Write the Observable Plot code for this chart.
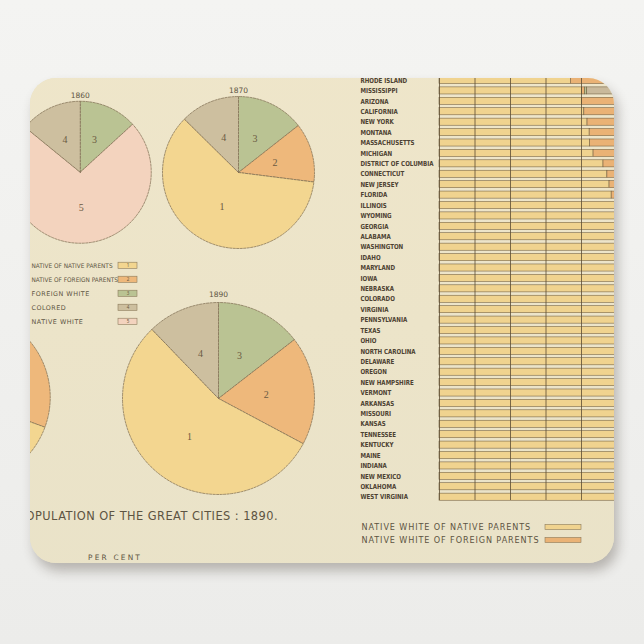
<!DOCTYPE html>
<html><head><meta charset="utf-8">
<script src="https://cdn.jsdelivr.net/npm/d3@7"></script>
<script src="https://cdn.jsdelivr.net/npm/@observablehq/plot@0.6"></script>
<style>
html,body{margin:0;padding:0;background:#efefed;}
#stage{position:relative;width:644px;height:644px;overflow:hidden;background:linear-gradient(#f4f4f2,#ececea);}
#shadow{position:absolute;left:30px;top:78px;width:584px;height:485px;border-radius:26px;box-shadow:4px 8px 12px rgba(60,50,40,0.30);background:#e9e2c8;}
#pad{position:absolute;left:0;top:0;width:644px;height:644px;clip-path:inset(78px 30px 81px 30px round 26px);background:linear-gradient(#efe6ca,#e9e2c8);}
#pad svg{position:absolute;overflow:visible;background:none;}
.t{position:absolute;white-space:nowrap;color:#5d5442;font-family:"DejaVu Sans",sans-serif;}
</style></head>
<body><div id="stage"><div id="shadow"></div><div id="pad"></div></div>
<script>
// ---------- data ----------
const pieKeys = ["1","2","3","4","5"];
const pieNames = ["NATIVE OF NATIVE PARENTS","NATIVE OF FOREIGN PARENTS","FOREIGN WHITE","COLORED","NATIVE WHITE"];
const pieColors = ["#f3d690","#eeb87b","#bac393","#cdbf9f","#f3d3be"];
const clockwiseOrder = ["3","2","1","5","4"];
const pieYears = ["1860","1870","1880","1890"];
// per cent shares, aligned with pieKeys 1..5
const share1860 = [0, 0, 13.2, 14.1, 72.7];
const share1870 = [60.4, 12.6, 14.4, 12.6, 0];
const share1880 = [56.3, 17.5, 13.1, 13.1, 0];
const share1890 = [55.0, 18.3, 14.5, 12.2, 0];

const states = ["RHODE ISLAND","MISSISSIPPI","ARIZONA","CALIFORNIA","NEW YORK","MONTANA","MASSACHUSETTS","MICHIGAN","DISTRICT OF COLUMBIA","CONNECTICUT","NEW JERSEY","FLORIDA","ILLINOIS","WYOMING","GEORGIA","ALABAMA","WASHINGTON","IDAHO","MARYLAND","IOWA","NEBRASKA","COLORADO","VIRGINIA","PENNSYLVANIA","TEXAS","OHIO","NORTH CAROLINA","DELAWARE","OREGON","NEW HAMPSHIRE","VERMONT","ARKANSAS","MISSOURI","KANSAS","TENNESSEE","KENTUCKY","MAINE","INDIANA","NEW MEXICO","OKLAHOMA","WEST VIRGINIA"];
const nativeOfNative  = [37.0,40.1,40.2,40.8,41.7,42.3,42.4,43.4,46.2,47.3,47.9,48.5,50.3,51.0,52.5,54.0,55.0,56.0,57.0,58.0,58.5,59.0,60.0,60.5,62.0,65.0,65.3,66.0,66.5,67.0,68.0,70.5,71.0,72.0,73.5,76.0,76.5,79.0,80.0,81.0,88.0];
const nativeOfForeign = [30.0,0.9,12.0,22.0,28.5,19.0,27.0,29.5,9.5,25.0,24.0,4.0,28.0,19.0,0.8,1.0,16.0,16.0,12.0,25.0,22.0,15.0,1.0,20.0,7.0,21.0,0.2,7.0,13.0,13.5,18.0,1.0,14.5,13.5,0.7,5.0,11.0,12.0,3.0,3.0,3.5];
const foreignWhite    = [31.0,0.6,17.0,29.0,28.0,31.0,29.2,25.8,11.0,25.8,24.7,5.0,20.7,23.5,0.6,0.8,25.0,21.0,8.0,16.5,19.0,23.0,0.9,17.0,6.5,11.5,0.1,6.5,17.5,19.0,13.5,1.0,8.5,10.5,0.6,2.5,12.0,6.5,5.0,2.5,2.3];
const colored         = [2.0,58.4,30.8,8.2,1.8,7.7,1.4,1.3,33.3,1.9,3.4,42.5,1.0,6.5,46.1,44.2,4.0,7.0,23.0,0.5,0.5,3.0,38.1,2.5,24.5,2.5,34.4,20.5,3.0,0.5,0.5,27.5,6.0,4.0,25.2,16.5,0.5,2.5,12.0,13.5,6.2];
const barCats = ["NATIVE WHITE OF NATIVE PARENTS","NATIVE WHITE OF FOREIGN PARENTS","FOREIGN WHITE","COLORED"];
const barColors = ["#f0d38f","#eab275","#bac393","#c9b99b"];
const xTicks = [0,10,20,30,40,50];

const pad = document.getElementById("pad");
const ink = "#5d5442";

// compress a text group horizontally about a left edge
function squeeze(svg, index, x0, k){
  const groups = svg.querySelectorAll("g[aria-label=text]");
  const g = groups[index]; if (!g) return;
  const w = document.createElementNS("http://www.w3.org/2000/svg","g");
  w.setAttribute("transform",`translate(${x0} 0) scale(${k} 1) translate(${-x0} 0)`);
  g.parentNode.insertBefore(w, g); w.appendChild(g);
}

// ---------- pies ----------
const pieLayout = {"1860":{cx:80,cy:172,r:71,labels:true},"1870":{cx:238,cy:172,r:76,labels:true},"1880":{cx:-37,cy:397,r:87,labels:false},"1890":{cx:218,cy:398,r:96,labels:true}};
const pieShares = {"1860":share1860,"1870":share1870,"1880":share1880,"1890":share1890};
function piePlot(year){
  const shares = pieShares[year], L = pieLayout[year], S = 1.25;
  const total = d3.sum(shares);
  const pts = [], labels = [];
  let acc = 0;
  for (const k of clockwiseOrder){
    const v = shares[+k-1]; if (!v) continue;
    const a0 = acc/total*2*Math.PI, a1 = (acc+v)/total*2*Math.PI; acc += v;
    const n = Math.ceil((a1-a0)/(Math.PI/120));
    pts.push({k, x:0, y:0});
    for (let j=0;j<=n;j++){const a=a0+(a1-a0)*j/n; pts.push({k, x:Math.sin(a), y:Math.cos(a)});}
    pts.push({k, x:0, y:0});
    const am=(a0+a1)/2; labels.push({k, x:0.5*Math.sin(am), y:0.5*Math.cos(am)});
  }
  const size = 2*S*L.r;
  const marks = [Plot.line(pts,{x:"x",y:"y",z:"k",fill:"k",stroke:"#7d6c50",strokeWidth:0.7,strokeDasharray:"2.2,1.3",curve:"linear"})];
  if (L.labels) marks.push(
    Plot.text(labels,{x:"x",y:"y",text:"k",fontSize:10,fill:"#6b5a42",fontFamily:"Liberation Serif, serif"}),
    Plot.text([year],{x:0,y:1.08,text:d=>d,fontSize:7.5,fill:ink,fontFamily:"DejaVu Sans, sans-serif"})
  );
  return Plot.plot({
    width:size, height:size, margin:0,
    x:{domain:[-S,S], axis:null}, y:{domain:[-S,S], axis:null},
    color:{domain:pieKeys, range:pieColors},
    style:{left:(L.cx-S*L.r)+"px", top:(L.cy-S*L.r)+"px"},
    marks
  });
}
for (const y of pieYears) pad.appendChild(piePlot(y));

// ---------- pie legend ----------
const pieLegend = Plot.plot({
  width:160, height:340, margin:0,
  x:{type:"identity", axis:null},
  y:{type:"band", domain:pieNames, range:[258.3,328.3], paddingInner:0.56, paddingOuter:0.28, round:false, axis:null},
  color:{domain:pieNames, range:pieColors},
  style:{left:"0px", top:"0px"},
  marks:[
    Plot.barX(pieNames,{x1:118,x2:137,y:d=>d,fill:d=>d,stroke:"#8c7b5c",strokeWidth:0.6}),
    Plot.text(pieKeys,{x:127.5,y:(d,i)=>pieNames[i],text:d=>d,fontSize:4.5,fill:"#6b5a42"}),
    Plot.text(pieNames.slice(0,2),{x:31,y:d=>d,text:d=>d,textAnchor:"start",fontSize:6.3,fill:ink,fontFamily:"DejaVu Sans, sans-serif"}),
    Plot.text(pieNames.slice(2),{x:31,y:d=>d,text:d=>d,textAnchor:"start",fontSize:6.4,fill:ink,fontFamily:"DejaVu Sans, sans-serif"})
  ]
});
pad.appendChild(pieLegend);
{
  const tg = pieLegend.querySelectorAll("g[aria-label=text]");
  if (tg.length) tg[tg.length-1].setAttribute("letter-spacing","0.5");
  squeeze(pieLegend, 1, 31, 0.92);
}

// ---------- state bars ----------
const rows = states.flatMap((s,i)=>[
  {state:s, cat:barCats[0], value:nativeOfNative[i]},
  {state:s, cat:barCats[1], value:nativeOfForeign[i]},
  {state:s, cat:barCats[2], value:foreignWhite[i]},
  {state:s, cat:barCats[3], value:colored[i]}
]);
const bars = Plot.plot({
  width:644, height:520, marginLeft:439, marginRight:27.5, marginTop:0, marginBottom:20,
  x:{domain:[0,50], axis:null},
  y:{domain:states, range:[74.8,501.9], paddingInner:0.32, paddingOuter:0.16, round:false, axis:null},
  color:{domain:barCats, range:barColors},
  style:{left:"0px", top:"0px"},
  marks:[
    Plot.barX(rows,{x:"value",y:"state",fill:"cat",stroke:"#6e5c3f",strokeWidth:0.55}),
    Plot.ruleX(xTicks,{stroke:"#5b4b34",strokeWidth:0.8}),
    Plot.text(states,{y:d=>d,frameAnchor:"left",textAnchor:"start",dx:-79,text:d=>d,fontSize:6.9,fontWeight:"bold",fill:"#4d4232",fontFamily:"DejaVu Sans, sans-serif"})
  ]
});
pad.appendChild(bars);
squeeze(bars, 0, 360, 0.8);

// ---------- bar legend ----------
const barLegendCats = barCats.slice(0,2);
const barLegend = Plot.plot({
  width:600, height:560, margin:0,
  x:{type:"identity", axis:null},
  y:{type:"band", domain:barLegendCats, range:[520.5,546.5], paddingInner:0.6, paddingOuter:0.3, round:false, axis:null},
  color:{domain:barCats, range:barColors},
  style:{left:"0px", top:"0px", letterSpacing:"0.9px"},
  marks:[
    Plot.barX(barLegendCats,{x1:545,x2:581,y:d=>d,fill:d=>d,stroke:"#8c7b5c",strokeWidth:0.6}),
    Plot.text(barLegendCats,{x:361,y:d=>d,text:d=>d,textAnchor:"start",fontSize:8.1,fill:ink,fontFamily:"DejaVu Sans, sans-serif"})
  ]
});
pad.appendChild(barLegend);

// ---------- titles ----------
const title = document.createElement("div");
title.className="t"; title.textContent="POPULATION OF THE GREAT CITIES : 1890.";
title.style.cssText="right:366px;top:509px;font-size:11.4px;letter-spacing:0.45px;";
pad.appendChild(title);
const per = document.createElement("div");
per.className="t"; per.textContent="PER CENT";
per.style.cssText="left:88px;top:553px;font-size:7.4px;letter-spacing:2.2px;";
pad.appendChild(per);
</script></body></html>
